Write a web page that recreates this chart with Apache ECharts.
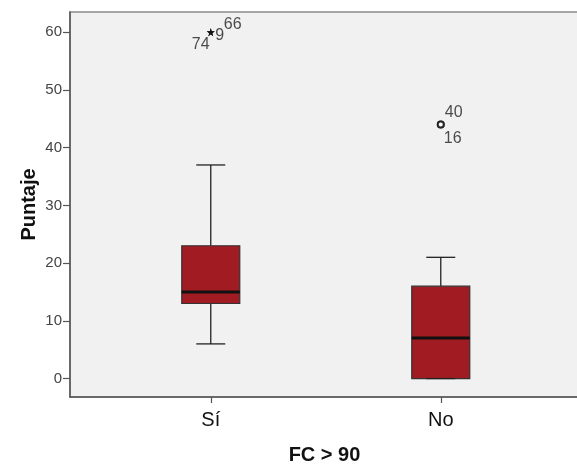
<!DOCTYPE html>
<html>
<head>
<meta charset="utf-8">
<title>Puntaje por FC > 90</title>
<script src="https://cdn.jsdelivr.net/npm/echarts@6/dist/echarts.min.js"></script>
<style>
  html, body { margin: 0; padding: 0; background: #fff; }
  #chart { width: 577px; height: 465px; }
</style>
</head>
<body>
<div id="chart"></div>
<script>
  // categorias del eje x
  const categories = ['Sí', 'No'];
  // resumen de cada caja: min, Q1, mediana, Q3, max
  const boxMin = [6, 0];
  const boxQ1 = [13, 0];
  const boxMedian = [15, 7];
  const boxQ3 = [23, 16];
  const boxMax = [37, 21];
  // valores atipicos (categoria, valor, caso)
  const outlierCat = [1, 1, 1, 2, 2];
  const outlierValue = [60, 60, 60, 44, 44];
  const outlierCase = ['74', '9', '66', '40', '16'];
  const outlierExtreme = [true, true, true, false, false];
  const yTicks = [0, 10, 20, 30, 40, 50, 60];

  const FONT = '"Liberation Sans", Arial, sans-serif';
  const BOX_W = 58;
  const CAP_W = 29;

  // desplazamiento de cada etiqueta respecto al punto
  const labelOffset = {
    '74': [-10, 12],
    '9': [9, 3],
    '66': [22, -8],
    '40': [13, -12],
    '16': [12, 14]
  };

  const boxData = categories.map((c, i) => [i + 1, boxMin[i], boxQ1[i], boxMedian[i], boxQ3[i], boxMax[i]]);

  function outlierPoints(extreme) {
    const pts = [];
    for (let i = 0; i < outlierCat.length; i++) {
      if (outlierExtreme[i] !== extreme) continue;
      pts.push({
        value: [outlierCat[i], outlierValue[i]],
        label: { offset: labelOffset[outlierCase[i]], formatter: outlierCase[i] }
      });
    }
    return pts;
  }

  function renderBox(params, api) {
    const x = api.value(0);
    const pMin = api.coord([x, api.value(1)]);
    const pQ1 = api.coord([x, api.value(2)]);
    const pMed = api.coord([x, api.value(3)]);
    const pQ3 = api.coord([x, api.value(4)]);
    const pMax = api.coord([x, api.value(5)]);
    const cx = pMed[0];
    const line = { stroke: '#222', lineWidth: 1.3 };
    return {
      type: 'group',
      children: [
        { type: 'line', shape: { x1: cx, y1: pQ3[1], x2: cx, y2: pMax[1] }, style: line },
        { type: 'line', shape: { x1: cx, y1: pMin[1], x2: cx, y2: pQ1[1] }, style: line },
        { type: 'line', shape: { x1: cx - CAP_W / 2, y1: pMax[1], x2: cx + CAP_W / 2, y2: pMax[1] }, style: line },
        {
          type: 'rect',
          shape: { x: cx - BOX_W / 2, y: pQ3[1], width: BOX_W, height: pQ1[1] - pQ3[1] },
          style: { fill: '#a01c22', stroke: '#333', lineWidth: 1.2 }
        },
        { type: 'line', shape: { x1: cx - CAP_W / 2, y1: pMin[1], x2: cx + CAP_W / 2, y2: pMin[1] }, style: line },
        { type: 'line', shape: { x1: cx - BOX_W / 2, y1: pMed[1], x2: cx + BOX_W / 2, y2: pMed[1] }, style: { stroke: '#111', lineWidth: 3 } }
      ]
    };
  }

  const starPath = 'path://M50,0 L61,35 L98,35 L68,57 L79,91 L50,70 L21,91 L32,57 L2,35 L39,35 Z';

  const chart = echarts.init(document.getElementById('chart'), null, { renderer: 'canvas' });

  const outlierLabel = {
    show: true,
    position: 'inside',
    align: 'center',
    verticalAlign: 'middle',
    color: '#222',
    fontSize: 16,
    fontFamily: FONT
  };

  chart.setOption({
    animation: false,
    textStyle: { fontFamily: FONT },
    grid: {
      left: 70,
      right: -2,
      top: 12,
      bottom: 68,
      outerBoundsMode: 'none',
      containLabel: false,
      show: true,
      backgroundColor: '#f1f1f1',
      borderColor: '#8a8a8a',
      borderWidth: 1.5
    },
    xAxis: {
      type: 'value',
      min: 0.388,
      max: 2.601,
      name: 'FC > 90',
      nameLocation: 'middle',
      nameGap: 48,
      nameMoveOverlap: false,
      nameTextStyle: { fontSize: 20, fontWeight: 'bold', color: '#111', fontFamily: FONT },
      splitLine: { show: false },
      axisLine: { show: true, onZero: false, lineStyle: { color: '#555', width: 1.5 } },
      axisTick: { show: true, length: 6, lineStyle: { color: '#555', width: 1.2 }, customValues: [1, 2] },
      axisLabel: {
        customValues: [1, 2],
        formatter: v => categories[Math.round(v) - 1],
        fontSize: 20,
        color: '#111',
        margin: 13
      }
    },
    yAxis: {
      type: 'value',
      min: -3.2,
      max: 63.5,
      name: 'Puntaje',
      nameLocation: 'middle',
      nameGap: 31,
      nameMoveOverlap: false,
      nameTextStyle: { fontSize: 20, fontWeight: 'bold', color: '#111', fontFamily: FONT },
      splitLine: { show: false },
      axisLine: { show: true, onZero: false, lineStyle: { color: '#555', width: 1.5 } },
      axisTick: { show: true, length: 7, lineStyle: { color: '#555', width: 1.2 }, customValues: yTicks },
      axisLabel: {
        customValues: yTicks,
        fontSize: 15,
        color: '#444',
        margin: 8
      }
    },
    series: [
      {
        type: 'custom',
        renderItem: renderBox,
        encode: { x: 0, y: [1, 2, 3, 4, 5] },
        data: boxData
      },
      {
        type: 'scatter',
        symbol: starPath,
        symbolSize: 8,
        itemStyle: { color: '#111' },
        label: outlierLabel,
        data: outlierPoints(true)
      },
      {
        type: 'scatter',
        symbol: 'emptyCircle',
        symbolSize: 6,
        itemStyle: { color: '#111', borderColor: '#111', borderWidth: 1.3 },
        label: outlierLabel,
        data: outlierPoints(false)
      }
    ]
  });
</script>
</body>
</html>
